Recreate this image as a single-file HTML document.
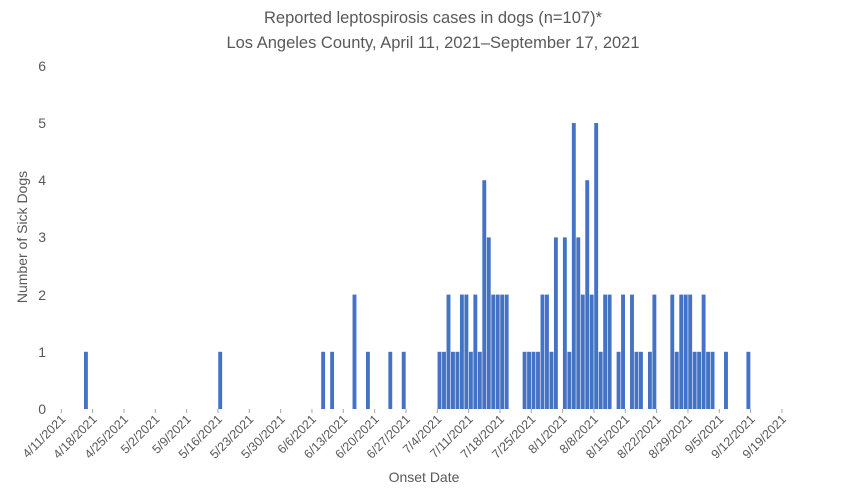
<!DOCTYPE html>
<html><head><meta charset="utf-8"><style>
html,body{margin:0;padding:0;background:#fff;}
svg text{font-family:"Liberation Sans",sans-serif;fill:#595959;}
</style></head><body>
<svg width="867" height="499" xmlns="http://www.w3.org/2000/svg">
<text x="433" y="23" font-size="16.5" text-anchor="middle">Reported leptospirosis cases in dogs (n=107)*</text>
<text x="433" y="48" font-size="16.5" text-anchor="middle">Los Angeles County, April 11, 2021–September 17, 2021</text>
<g font-size="14" text-anchor="end">
<text x="46" y="414">0</text><text x="46" y="357">1</text><text x="46" y="300">2</text>
<text x="46" y="242">3</text><text x="46" y="185">4</text><text x="46" y="128">5</text><text x="46" y="71">6</text>
</g>
<text transform="translate(27,237) rotate(-90)" font-size="14" text-anchor="middle">Number of Sick Dogs</text>
<text x="424" y="482" font-size="14" text-anchor="middle">Onset Date</text>
<g id="bars" fill="#4472c4"></g>
<g id="ticks" stroke="#a6a6a6" stroke-width="1"></g>
<g id="labels" font-size="12.5" text-anchor="end"></g>
<script>
var x0=61.3,d=4.476,y0=409,u=57.2;
var data=[[5,1],[35,1],[58,1],[60,1],[65,2],[68,1],[73,1],[76,1],
[84,1],[85,1],[86,2],[87,1],[88,1],[89,2],[90,2],[91,1],[92,2],[93,1],[94,4],[95,3],[96,2],[97,2],[98,2],[99,2],
[103,1],[104,1],[105,1],[106,1],[107,2],[108,2],[109,1],[110,3],
[112,3],[113,1],[114,5],[115,3],[116,2],[117,4],[118,2],[119,5],[120,1],[121,2],[122,2],[124,1],[125,2],
[127,2],[128,1],[129,1],[131,1],[132,2],[136,2],[137,1],[138,2],[139,2],[140,2],[141,1],[142,1],[143,2],[144,1],[145,1],[148,1],[153,1]];
var ns="http://www.w3.org/2000/svg",b=document.getElementById("bars");
data.forEach(function(p){var r=document.createElementNS(ns,"rect");
r.setAttribute("x",(x0+p[0]*d+0.3).toFixed(2));r.setAttribute("width",(d-0.6).toFixed(2));
r.setAttribute("y",(y0-p[1]*u).toFixed(2));r.setAttribute("height",(p[1]*u).toFixed(2));b.appendChild(r);});
var labs=["4/11/2021","4/18/2021","4/25/2021","5/2/2021","5/9/2021","5/16/2021","5/23/2021","5/30/2021","6/6/2021","6/13/2021","6/20/2021","6/27/2021","7/4/2021","7/11/2021","7/18/2021","7/25/2021","8/1/2021","8/8/2021","8/15/2021","8/22/2021","8/29/2021","9/5/2021","9/12/2021","9/19/2021"];
var t=document.getElementById("ticks"),l=document.getElementById("labels");
labs.forEach(function(s,i){var x=x0+i*7*d;
var ln=document.createElementNS(ns,"line");ln.setAttribute("x1",x);ln.setAttribute("x2",x);ln.setAttribute("y1",409);ln.setAttribute("y2",413);t.appendChild(ln);
var tx=document.createElementNS(ns,"text");tx.setAttribute("transform","translate("+(x+5)+",420) rotate(-45)");tx.textContent=s;l.appendChild(tx);});
</script>
</svg>
</body></html>
